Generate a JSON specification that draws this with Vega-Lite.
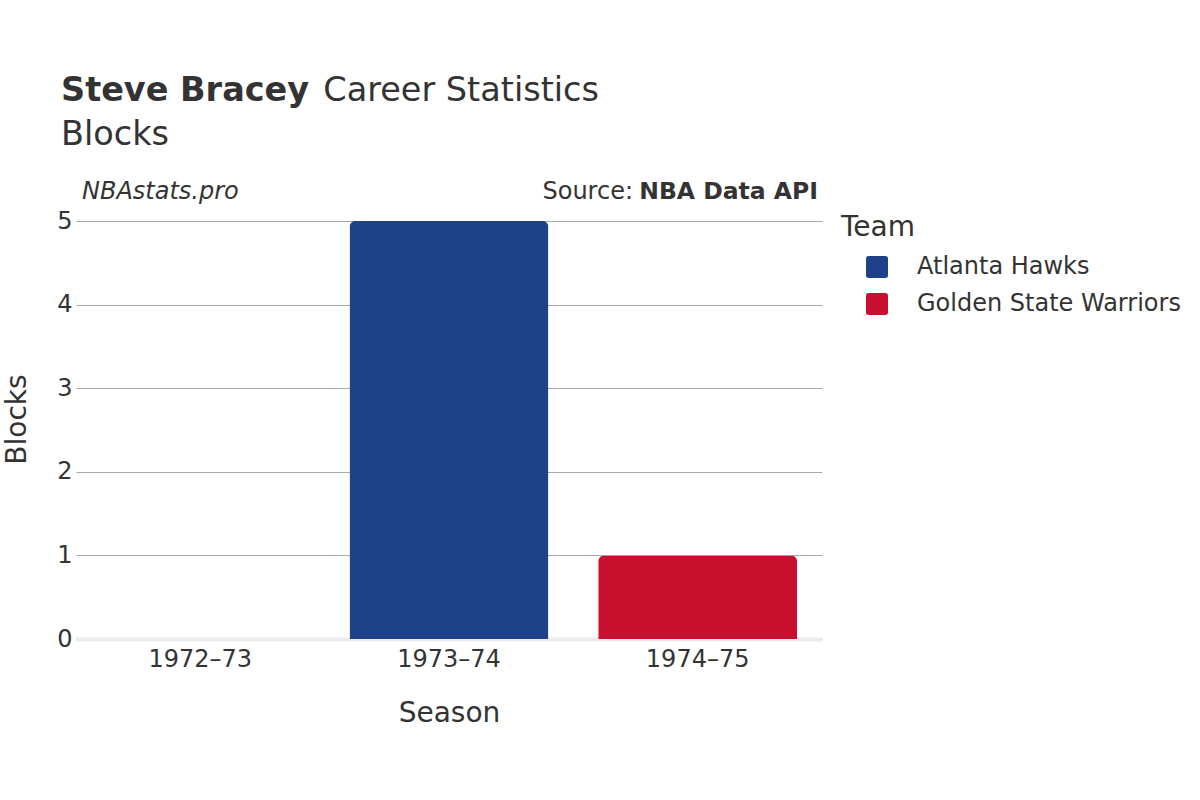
{
  "$schema": "https://vega.github.io/schema/vega-lite/v6.json",
  "width": 746,
  "height": 418,
  "autosize": {"type": "none"},
  "padding": {"left": 76, "top": 221, "right": 378, "bottom": 161},
  "background": "white",
  "config": {
    "font": "DejaVu Sans",
    "view": {"stroke": null}
  },
  "title": {
    "text": "Steve Bracey",
    "subtitle": ["\u200b\u00a0\u00a0\u00a0\u00a0\u00a0\u00a0\u00a0\u00a0\u00a0\u00a0\u00a0\u00a0\u00a0\u00a0\u00a0\u00a0\u00a0\u00a0\u00a0\u00a0\u00a0\u00a0\u00a0\u00a0\u2009Career Statistics", "Blocks"],
    "anchor": "start",
    "frame": "group",
    "dx": -15,
    "offset": 28,
    "fontSize": 33.5,
    "fontWeight": "bold",
    "color": "#333333",
    "subtitleFontSize": 33.5,
    "subtitleFontWeight": "normal",
    "subtitleColor": "#333333",
    "subtitlePadding": -33.5,
    "subtitleLineHeight": 44,
    "font": "DejaVu Sans",
    "subtitleFont": "DejaVu Sans"
  },
  "layer": [
    {
      "data": {
        "values": [
          {"Season": "1972–73", "Team": "Atlanta Hawks", "Blocks": 0},
          {"Season": "1973–74", "Team": "Atlanta Hawks", "Blocks": 5},
          {"Season": "1974–75", "Team": "Golden State Warriors", "Blocks": 1}
        ]
      },
      "mark": {"type": "bar", "cornerRadiusTopLeft": 6, "cornerRadiusTopRight": 6},
      "encoding": {
        "x": {
          "field": "Season",
          "type": "nominal",
          "sort": ["1972–73", "1973–74", "1974–75"],
          "scale": {"paddingInner": 0.2, "paddingOuter": 0.1},
          "axis": {
            "labelAngle": 0,
            "domain": true,
            "domainColor": "#ebebeb",
            "domainWidth": 4,
            "ticks": false,
            "labelPadding": 8,
            "labelFontSize": 24,
            "labelColor": "#333333",
            "title": "Season",
            "titleFontSize": 28,
            "titleFontWeight": "normal",
            "titleColor": "#333333",
            "titlePadding": 28
          }
        },
        "y": {
          "field": "Blocks",
          "type": "quantitative",
          "scale": {"domain": [0, 5], "nice": false},
          "axis": {
            "values": [0, 1, 2, 3, 4, 5],
            "format": "d",
            "grid": true,
            "gridColor": "#a8a8a8",
            "gridWidth": 1,
            "domain": false,
            "ticks": false,
            "labelPadding": 4,
            "labelFontSize": 24,
            "labelColor": "#333333",
            "title": "Blocks",
            "titleFontSize": 28,
            "titleFontWeight": "normal",
            "titleColor": "#333333",
            "titlePadding": 25,
            "titleY": 198
          }
        },
        "color": {
          "field": "Team",
          "type": "nominal",
          "scale": {
            "domain": ["Atlanta Hawks", "Golden State Warriors"],
            "range": ["#1d4289", "#c8102e"]
          },
          "legend": {
            "title": "Team",
            "orient": "none",
            "legendX": 765,
            "legendY": -7,
            "titleFontSize": 28,
            "titleFontWeight": "normal",
            "titleColor": "#333333",
            "titlePadding": 13,
            "labelFontSize": 24,
            "labelColor": "#333333",
            "labelLimit": 400,
            "symbolType": "M -0.75 -1 L 0.75 -1 Q 1 -1 1 -0.75 L 1 0.75 Q 1 1 0.75 1 L -0.75 1 Q -1 1 -1 0.75 L -1 -0.75 Q -1 -1 -0.75 -1 Z",
            "symbolSize": 484,
            "symbolStrokeWidth": 0,
            "symbolOpacity": 1,
            "symbolOffset": 24,
            "labelOffset": 28,
            "rowPadding": 13,
            "padding": 0
          }
        }
      }
    },
    {
      "data": {"values": [{"label": "NBAstats.pro"}]},
      "mark": {"type": "text", "align": "left", "baseline": "alphabetic", "dx": 6, "dy": -22, "fontSize": 24, "fontStyle": "italic", "color": "#333333"},
      "encoding": {
        "x": {"value": 0},
        "y": {"datum": 5},
        "text": {"field": "label"}
      }
    },
    {
      "data": {"values": [{"label": "NBA Data API"}]},
      "mark": {"type": "text", "align": "right", "baseline": "alphabetic", "dx": -4, "dy": -22, "fontSize": 23.5, "fontWeight": "bold", "color": "#333333"},
      "encoding": {
        "x": {"value": "width"},
        "y": {"datum": 5},
        "text": {"field": "label"}
      }
    },
    {
      "data": {"values": [{"label": "Source:"}]},
      "mark": {"type": "text", "align": "right", "baseline": "alphabetic", "dx": -189, "dy": -22, "fontSize": 24, "color": "#333333"},
      "encoding": {
        "x": {"value": "width"},
        "y": {"datum": 5},
        "text": {"field": "label"}
      }
    }
  ]
}
